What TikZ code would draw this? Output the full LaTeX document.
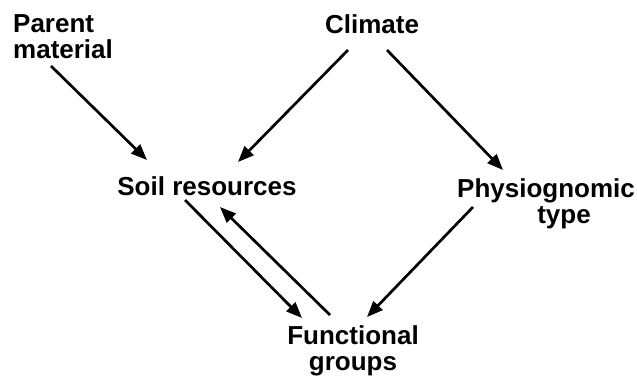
\documentclass[tikz,border=0pt]{standalone}
\usepackage{fontspec}
\setmainfont{Liberation Sans}
\usetikzlibrary{arrows.meta}
\begin{document}
\begin{tikzpicture}[x=1pt,y=-1pt,
  lbl/.style={inner sep=0pt, font=\fontsize{26}{26.5}\selectfont\bfseries},
  conn/.style={line width=2.7pt, -{Triangle[length=16pt,width=12.5pt]}}]
\useasboundingbox (0,0) rectangle (637,376);
\node[lbl, align=left, anchor=north west] (pm) at (13,14) {Parent\\material};
\node[lbl, anchor=base] (clim) at (372,33) {Climate};
\node[lbl, anchor=base] (soil) at (207,195) {Soil resources};
\node[lbl, align=center, anchor=north] (phys) at (546,178) {Physiognomic\\\hspace*{36pt}type};
\node[lbl, align=center, anchor=north] (func) at (353,325) {Functional\\groups};
\draw[conn] ([shift={(38,52)}]pm.north west) -- ([shift={(-60,-35)}]soil.base);
\draw[conn] ([shift={(-24,17)}]clim.base) -- ([shift={(31,-33)}]soil.base);
\draw[conn] ([shift={(15,17)}]clim.base) -- ([shift={(-43,-8)}]phys.north);
\draw[conn] ([shift={(-73,29)}]phys.north) -- ([shift={(14,-8)}]func.north);
\draw[conn] ([shift={(-22,5)}]soil.base) -- ([shift={(-51,-7)}]func.north);
\draw[conn] ([shift={(-23,-10)}]func.north) -- ([shift={(13,12)}]soil.base);
\end{tikzpicture}
\end{document}
